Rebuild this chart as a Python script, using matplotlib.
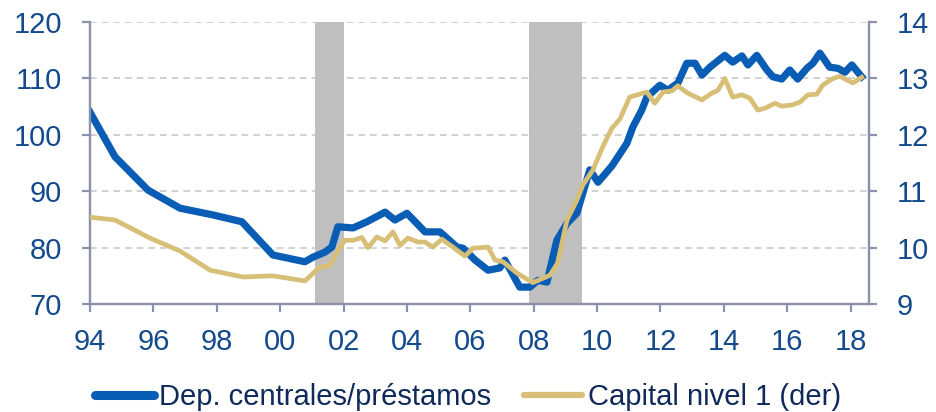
import matplotlib
matplotlib.use("Agg")
import matplotlib.pyplot as plt
from matplotlib.lines import Line2D

plt.rcParams['font.family'] = ['Liberation Sans', 'DejaVu Sans']

# Dep. centrales/préstamos (left axis)
dep_x = [1994.0, 1994.79, 1995.83, 1996.84, 1997.88, 1998.79, 1999.77, 2000.78,
         2001.03, 2001.41, 2001.63, 2001.82, 2002.30, 2002.74, 2003.31, 2003.62,
         2004.00, 2004.57, 2005.04, 2005.58, 2005.77, 2006.15, 2006.56, 2006.93,
         2007.09, 2007.56, 2007.88, 2008.13, 2008.42, 2008.73, 2009.05, 2009.36,
         2009.77, 2010.03, 2010.47, 2010.94, 2011.13, 2011.41, 2011.57, 2011.98,
         2012.23, 2012.55, 2012.83, 2013.09, 2013.31, 2013.56, 2014.03, 2014.28,
         2014.57, 2014.76, 2015.04, 2015.36, 2015.55, 2015.83, 2016.08, 2016.33,
         2016.62, 2016.81, 2017.03, 2017.34, 2017.60, 2017.82, 2018.04, 2018.35]
dep_y = [104.0, 96.1, 90.2, 87.0, 85.8, 84.6, 78.7, 77.5,
         78.3, 79.2, 80.1, 83.7, 83.5, 84.6, 86.3, 84.9,
         86.1, 82.8, 82.8, 80.1, 79.9, 77.8, 76.0, 76.4,
         77.8, 73.0, 73.0, 74.2, 73.9, 81.3, 84.3, 86.1,
         93.8, 91.6, 94.5, 98.5, 101.4, 104.4, 106.7, 108.8,
         107.9, 109.2, 112.7, 112.7, 110.6, 112.0, 114.1, 112.9,
         114.0, 112.4, 114.1, 111.5, 110.3, 109.9, 111.5, 109.9,
         111.8, 112.7, 114.5, 112.0, 111.8, 111.1, 112.4, 110.3]

# Capital nivel 1 (der) (right axis)
cap_x = [1994.0, 1994.79, 1995.89, 1996.84, 1997.79, 1998.83, 1999.77, 2000.78,
         2001.26, 2001.57, 2001.79, 2002.04, 2002.30, 2002.58, 2002.77, 2003.05,
         2003.31, 2003.56, 2003.78, 2004.03, 2004.35, 2004.57, 2004.82, 2005.10,
         2005.45, 2005.83, 2006.08, 2006.56, 2006.78, 2007.03, 2007.47, 2007.97,
         2008.51, 2008.76, 2009.05, 2009.36, 2009.55, 2009.87, 2010.18, 2010.47,
         2010.72, 2011.03, 2011.57, 2011.82, 2012.08, 2012.36, 2012.55, 2012.86,
         2013.31, 2013.62, 2013.81, 2014.03, 2014.28, 2014.57, 2014.82, 2015.07,
         2015.29, 2015.61, 2015.83, 2016.15, 2016.40, 2016.65, 2016.93, 2017.12,
         2017.41, 2017.66, 2018.07, 2018.35]
cap_y = [10.54, 10.49, 10.17, 9.94, 9.60, 9.48, 9.50, 9.41,
         9.66, 9.68, 9.92, 10.13, 10.13, 10.18, 10.00, 10.19,
         10.12, 10.28, 10.04, 10.17, 10.10, 10.10, 10.01, 10.15,
         10.01, 9.85, 9.99, 10.01, 9.78, 9.75, 9.55, 9.38,
         9.51, 9.73, 10.49, 10.84, 11.11, 11.38, 11.79, 12.12,
         12.28, 12.67, 12.76, 12.56, 12.76, 12.78, 12.87, 12.74,
         12.62, 12.74, 12.79, 13.00, 12.67, 12.71, 12.65, 12.44,
         12.47, 12.56, 12.51, 12.53, 12.58, 12.71, 12.72, 12.88,
         12.99, 13.04, 12.92, 13.02]

# Shaded periods
bands = [(2001.1, 2002.0), (2007.85, 2009.52)]

x_ticks = [1994, 1996, 1998, 2000, 2002, 2004, 2006, 2008, 2010, 2012, 2014, 2016, 2018]
x_labels = ['94', '96', '98', '00', '02', '04', '06', '08', '10', '12', '14', '16', '18']
left_ticks = [70, 80, 90, 100, 110, 120]
right_ticks = [9, 10, 11, 12, 13, 14]

BLUE = '#0A5DB4'
GOLD = '#D8BF78'
GRAY = '#BFBFBF'
SPINE = '#8A93AB'
TICKC = '#134A8C'
LEGC = '#0F2A5A'
FS = 21

fig = plt.figure(figsize=(9.36, 4.12), dpi=100)
ax = fig.add_axes([0.0962, 0.262, 0.8322, 0.6844])
ax2 = ax.twinx()

for a, b in bands:
    ax.axvspan(a, b, color=GRAY, lw=0, zorder=1)

for t in left_ticks[1:]:
    ax.axhline(t, color='#C9C9C9', lw=1.2, ls=(0, (4, 3)), zorder=0.5)

ax.plot(dep_x, dep_y, color=BLUE, lw=5.2, solid_joinstyle='round', zorder=3)
ax2.plot(cap_x, cap_y, color=GOLD, lw=3.4, solid_joinstyle='round', zorder=3)

ax.set_xlim(1994, 2018.58)
ax.set_ylim(70, 120)
ax2.set_ylim(9, 14)
ax.set_xticks(x_ticks)
ax.set_xticklabels(x_labels)
ax.set_yticks(left_ticks)
ax2.set_yticks(right_ticks)

for a in (ax, ax2):
    a.spines['top'].set_visible(False)
    for s in ('left', 'right', 'bottom'):
        a.spines[s].set_color(SPINE)
        a.spines[s].set_linewidth(1.6)
    a.tick_params(axis='both', colors=SPINE, labelcolor=TICKC, labelsize=FS,
                  length=6, width=1.6, direction='out')
ax.tick_params(axis='y', pad=14)
ax2.tick_params(axis='y', pad=14)
ax.tick_params(axis='x', pad=11)

handles = [Line2D([], [], color=BLUE, lw=6.5, solid_capstyle='round'),
           Line2D([], [], color=GOLD, lw=4.5, solid_capstyle='round')]
labels = ['Dep. centrales/préstamos', 'Capital nivel 1 (der)']
fig.legend(handles, labels, loc='center', bbox_to_anchor=(0.5, 0.037), ncol=2,
           frameon=False, fontsize=FS, handlelength=2.0, handletextpad=0.2,
           columnspacing=1.1, labelcolor=LEGC, borderpad=0, borderaxespad=0)

fig.savefig('out.png', dpi=100)
